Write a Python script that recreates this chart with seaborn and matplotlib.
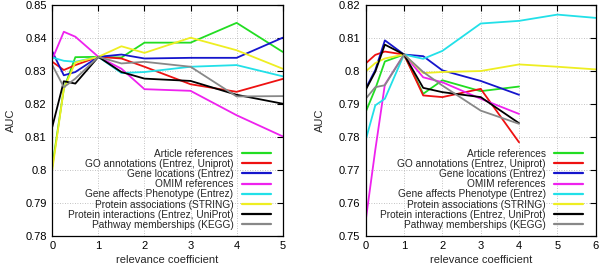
import numpy as np
import pandas as pd
import matplotlib
matplotlib.use("Agg")
import matplotlib.pyplot as plt
from matplotlib.lines import Line2D
from matplotlib.ticker import FuncFormatter
import seaborn as sns

series_names = [
    "Article references",
    "GO annotations (Entrez, Uniprot)",
    "Gene locations (Entrez)",
    "OMIM references",
    "Gene affects Phenotype (Entrez)",
    "Protein associations (STRING)",
    "Protein interactions (Entrez, UniProt)",
    "Pathway memberships (KEGG)",
]
series_colors = ["#22dd22", "#ee1111", "#1515cc", "#ee22ee",
                 "#22e0e8", "#eeee22", "#000000", "#888888"]

# Left panel
x_left = [0, 0.25, 0.5, 1, 1.5, 2, 3, 4, 5]
left_article = [0.801, 0.8245, 0.8341, 0.8342, 0.8340, 0.8385, 0.8385, 0.8445, 0.8357]
left_go = [0.8327, 0.8302, 0.8317, 0.8342, 0.8337, 0.8312, 0.8259, 0.8236, 0.8275]
left_loc = [0.8358, 0.8286, 0.8296, 0.8342, 0.8349, 0.8337, 0.8339, 0.8339, 0.8400]
left_omim = [0.8335, 0.8418, 0.8403, 0.8342, 0.8306, 0.8244, 0.8239, 0.8165, 0.8101]
left_pheno = [0.8340, 0.8330, 0.8327, 0.8342, 0.8293, 0.8296, 0.8312, 0.8317, 0.8283]
left_assoc = [0.800, 0.8245, 0.8325, 0.8342, 0.8374, 0.8354, 0.8400, 0.8362, 0.8306]
left_inter = [0.8130, 0.8268, 0.8261, 0.8342, 0.8296, 0.8276, 0.8269, 0.8227, 0.8200]
left_path = [0.8317, 0.8250, 0.8276, 0.8342, 0.8322, 0.8327, 0.8312, 0.8222, 0.8223]

# Right panel
x_right = [0, 0.25, 0.5, 1, 1.5, 2, 3, 4, 5, 6]
right_article = [0.7875, 0.7945, 0.8028, 0.8049, 0.7930, 0.7971, 0.7938, 0.7952]
right_go = [0.8022, 0.8048, 0.8058, 0.8049, 0.7925, 0.7920, 0.7945, 0.7783]
right_loc = [0.7946, 0.8002, 0.8092, 0.8049, 0.8044, 0.8001, 0.7969, 0.7927]
right_omim = [0.7546, 0.7760, 0.7958, 0.8049, 0.7980, 0.7965, 0.7915, 0.7869]
right_pheno = [0.7790, 0.7895, 0.7915, 0.8049, 0.8036, 0.8060, 0.8143, 0.8151, 0.8170, 0.8160]
right_assoc = [0.7998, 0.8023, 0.8037, 0.8049, 0.7993, 0.7996, 0.7999, 0.8019, 0.8012, 0.8004]
right_inter = [0.7942, 0.7997, 0.8079, 0.8049, 0.7948, 0.7935, 0.7920, 0.7841]
right_path = [0.7915, 0.7950, 0.7956, 0.8049, 0.7996, 0.7955, 0.7879, 0.7839]

left_values = [left_article, left_go, left_loc, left_omim, left_pheno, left_assoc, left_inter, left_path]
right_values = [right_article, right_go, right_loc, right_omim, right_pheno, right_assoc, right_inter, right_path]


def to_frame(xs, values):
    rows = []
    for name, vals in zip(series_names, values):
        for x, v in zip(xs, vals):
            rows.append({"x": x, "auc": v, "series": name})
    return pd.DataFrame(rows)


sns.set_style("white")
plt.rcParams["font.family"] = ["Liberation Sans", "DejaVu Sans"]

fig = plt.figure(figsize=(6.0, 2.66), dpi=100)
ax_l = fig.add_axes([52.3 / 600, 30.3 / 266, 230.4 / 600, 231 / 266])
ax_r = fig.add_axes([365.7 / 600, 30.3 / 266, 230 / 600, 231 / 266])

palette = dict(zip(series_names, series_colors))


def style_axes(ax, xlim, xticks, ylim, yticks, legend_x, ylabelpad):
    ax.set_xlim(*xlim)
    ax.set_ylim(*ylim)
    ax.set_xticks(xticks)
    ax.set_yticks(yticks)
    ax.yaxis.set_major_formatter(FuncFormatter(lambda v, p: "%g" % round(v, 4)))
    ax.grid(True, color="#b0b0b0", linestyle=(0, (1, 2)), linewidth=0.6)
    ax.set_axisbelow(True)
    for s in ax.spines.values():
        s.set_visible(True)
        s.set_color("black")
        s.set_linewidth(0.9)
    ax.tick_params(direction="in", length=4, width=0.8, top=True, right=True,
                   labelsize=8, colors="black", pad=4)
    ax.set_xlabel("relevance coefficient", fontsize=8, labelpad=3)
    ax.set_ylabel("AUC", fontsize=8, labelpad=ylabelpad)
    handles = [Line2D([], [], color=c, lw=1.6) for c in series_colors]
    ax.legend(handles, series_names, loc="lower right", frameon=False,
              markerfirst=False, fontsize=7.3, labelspacing=0.02,
              handlelength=2.9, handletextpad=0.8, borderpad=0,
              borderaxespad=0, bbox_to_anchor=(legend_x, 0.025))


sns.lineplot(data=to_frame(x_left, left_values), x="x", y="auc", hue="series",
             hue_order=series_names, palette=palette, lw=1.3, legend=False,
             ax=ax_l, sort=True)
sns.lineplot(data=to_frame(x_right, right_values), x="x", y="auc", hue="series",
             hue_order=series_names, palette=palette, lw=1.3, legend=False,
             ax=ax_r, sort=True)

style_axes(ax_l, (0, 5), range(0, 6), (0.78, 0.85), np.arange(0.78, 0.8501, 0.01), 0.949, 6.5)
style_axes(ax_r, (0, 6), range(0, 7), (0.75, 0.82), np.arange(0.75, 0.8201, 0.01), 0.945, 10)

fig.savefig("out.png", dpi=100)
